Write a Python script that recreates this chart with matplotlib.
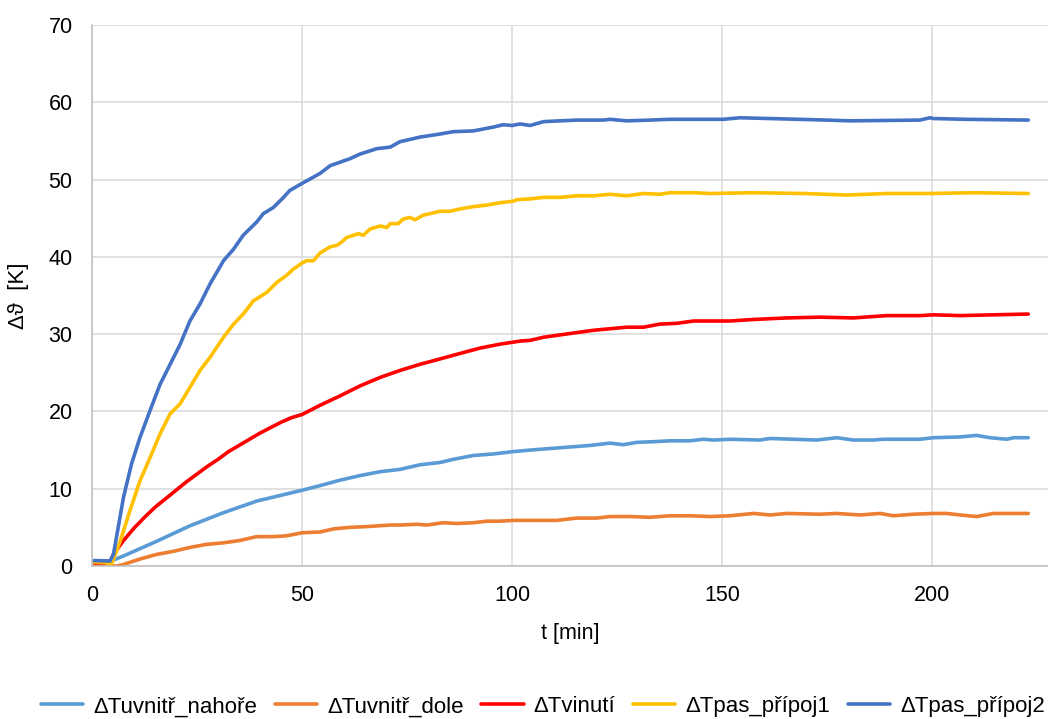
import matplotlib.pyplot as plt

plt.rcParams['font.family'] = ['Liberation Sans', 'DejaVu Sans']

# series names
names = ['ΔTuvnitř_nahoře', 'ΔTuvnitř_dole', 'ΔTvinutí', 'ΔTpas_přípoj1', 'ΔTpas_přípoj2']
colors = ['#5B9BD5', '#ED7D31', '#FF0000', '#FFC000', '#4472C4']

# values (t in min, dT in K)
t_nahore = [0.5, 4.3, 7.5, 15.4, 23.3, 31.3, 39.2, 50, 54.3, 59, 63.8, 68.6, 73.3, 78.1, 82.9, 86,
            90.8, 95.6, 100.3, 104.3, 109, 113.8, 118.6, 123.3, 126.5, 129.7, 134.4, 137.6, 142.4,
            145.6, 147.9, 152, 159, 161.4, 172.5, 177.3, 181.3, 186, 188.4, 197.1, 200.3, 206.7,
            210.6, 213.8, 217.8, 219.4, 222.9]
v_nahore = [0.6, 0.6, 1.3, 3.2, 5.2, 6.9, 8.4, 9.8, 10.4, 11.1, 11.7, 12.2, 12.5, 13.1, 13.4, 13.8,
            14.3, 14.5, 14.8, 15.0, 15.2, 15.4, 15.6, 15.9, 15.7, 16.0, 16.1, 16.2, 16.2,
            16.4, 16.3, 16.4, 16.3, 16.5, 16.3, 16.6, 16.3, 16.3, 16.4, 16.4, 16.6, 16.7,
            16.9, 16.6, 16.4, 16.6, 16.6]

t_dole = [0.7, 4.3, 6, 7.5, 11.4, 15.4, 19.4, 23.3, 27.3, 31.3, 35.2, 39.2, 43.2, 46.3, 50,
          54.3, 57.5, 61.4, 65.4, 71, 73.3, 77.3, 79.7, 83.7, 86.8, 90.8, 94, 97.1, 100.3,
          104.3, 110.6, 115.4, 120.2, 123.3, 128.1, 132.9, 137.6, 142.4, 147.1, 151.9,
          157.5, 161.4, 165.4, 173.3, 177.3, 182.9, 187.6, 190.8, 195.6, 200.3,
          203.5, 206.7, 210.6, 214.6, 219.4, 222.9]
v_dole = [0.2, 0.0, 0.0, 0.2, 0.9, 1.5, 1.9, 2.4, 2.8, 3.0, 3.3, 3.8, 3.8, 3.9, 4.3,
          4.4, 4.8, 5.0, 5.1, 5.3, 5.3, 5.4, 5.3, 5.6, 5.5, 5.6, 5.8, 5.8, 5.9,
          5.9, 5.9, 6.2, 6.2, 6.4, 6.4, 6.3, 6.5, 6.5, 6.4, 6.5,
          6.8, 6.6, 6.8, 6.7, 6.8, 6.6, 6.8, 6.5, 6.7, 6.8,
          6.8, 6.6, 6.4, 6.8, 6.8, 6.8]

t_vinuti = [0.5, 4.3, 5.1, 7.5, 10, 12.5, 15, 17.5, 20, 22.5, 25, 27.5, 30, 32.5, 35, 37.5, 40,
            42.5, 45, 47.5, 50, 54.3, 59, 63.8, 68.6, 73.3, 78.1, 82.9, 87.6, 92.4, 97.1, 101.9,
            104.3, 107.5, 111.4, 115.4, 119.4, 123.3, 127.3, 131.3, 135.2, 139.2, 143.2, 147.1,
            151.9, 157.5, 165.4, 173.3, 181.3, 189.2, 197.1, 200.3, 206.7, 214.6, 222.9]
v_vinuti = [0.4, 0.5, 1.5, 3.3, 4.9, 6.3, 7.6, 8.7, 9.8, 10.9, 11.9, 12.9, 13.8, 14.8, 15.6, 16.4, 17.2,
            17.9, 18.6, 19.2, 19.6, 20.8, 22.0, 23.3, 24.4, 25.3, 26.1, 26.8, 27.5, 28.2, 28.7, 29.1,
            29.2, 29.6, 29.9, 30.2, 30.5, 30.7, 30.9, 30.9, 31.3, 31.4, 31.7, 31.7,
            31.7, 31.9, 32.1, 32.2, 32.1, 32.4, 32.4, 32.5, 32.4, 32.5, 32.6]

t_pripoj1 = [0.5, 3.0, 4.3, 4.7, 6.7, 9.0, 11.4, 13.8, 16.2, 18.6, 21, 23.3, 25.7, 28.1, 31.3, 33.7,
             36, 38.4, 41.6, 44, 46.3, 47.9, 50, 51.1, 52.7, 54.3, 56.7, 58.3, 59.4, 60.6, 63.4,
             64.6, 66.2, 68.6, 70.2, 71, 72.9, 74.1, 75.7, 76.9, 78.9, 82.9, 85.2, 87.6, 90.8, 94,
             97.1, 100.3, 101.1, 104.3, 107.5, 111.4, 115.4, 119.4, 123.3, 127.3, 131.3, 135.2,
             137.6, 143.2, 147.1, 157.5, 169.4, 179.7, 189.2, 199.5, 210, 222.9]
v_pripoj1 = [0.5, 0.5, 0.2, 0.3, 3.2, 7.1, 11.0, 14.0, 17.1, 19.7, 21.0, 23.1, 25.3, 27.0, 29.6, 31.3,
             32.6, 34.3, 35.4, 36.7, 37.6, 38.4, 39.2, 39.5, 39.5, 40.5, 41.3, 41.5, 41.9, 42.5, 43.0,
             42.8, 43.6, 44.0, 43.8, 44.3, 44.3, 44.9, 45.1, 44.8, 45.4, 45.9, 45.9, 46.2, 46.5, 46.7,
             47.0, 47.2, 47.4, 47.5, 47.7, 47.7, 47.9, 47.9, 48.1, 47.9, 48.2, 48.1,
             48.3, 48.3, 48.2, 48.3, 48.2, 48.0, 48.2, 48.2, 48.3, 48.2]

t_pripoj2 = [0.5, 4.3, 5.1, 7.5, 9.4, 11.4, 13.8, 16.2, 18.6, 21, 23.3, 25.7, 28.1, 31.3, 33.7, 36,
             39.2, 40.8, 43.2, 45.6, 47.1, 50, 54.3, 56.7, 61.4, 63.8, 67.8, 71, 73.3, 78.1, 82.9,
             86, 90.8, 95.6, 97.9, 100, 101.9, 104.3, 107.5, 111.4, 115.4, 121.7, 123.3, 127.3,
             132.9, 137.6, 145.6, 150.3, 154.3, 174.9, 180.5, 197.1, 199.5, 200.3, 208, 222.9]
v_pripoj2 = [0.7, 0.65, 1.5, 8.9, 13.2, 16.6, 20.1, 23.5, 26.1, 28.7, 31.7, 33.9, 36.5, 39.5, 41.0, 42.8,
             44.5, 45.6, 46.4, 47.7, 48.6, 49.5, 50.8, 51.8, 52.7, 53.3, 54.0, 54.2, 54.9, 55.5, 55.9,
             56.2, 56.3, 56.8, 57.1, 57.0, 57.2, 57.0, 57.5, 57.6, 57.7, 57.7, 57.8, 57.6,
             57.7, 57.8, 57.8, 57.8, 58.0, 57.7, 57.6, 57.7, 58.0, 57.9, 57.8, 57.7]

series = [(t_nahore, v_nahore), (t_dole, v_dole), (t_vinuti, v_vinuti),
          (t_pripoj1, v_pripoj1), (t_pripoj2, v_pripoj2)]

fig = plt.figure(figsize=(10.48, 7.19), dpi=100)
ax = fig.add_axes([0.0878, 0.2128, 1 - 0.0878, 0.9652 - 0.2128])

for (t, v), name, c in zip(series, names, colors):
    ax.plot(t, v, color=c, lw=2.6, label=name, solid_capstyle='round')

ax.set_xlim(0, 227.6)
ax.set_ylim(0, 70)
ax.set_xticks([0, 50, 100, 150, 200])
ax.set_yticks(range(0, 71, 10))
ax.grid(True, color='#D9D9D9', lw=1.1)
ax.set_axisbelow(True)
for s in ['top', 'right']:
    ax.spines[s].set_visible(False)
for s in ['left', 'bottom']:
    ax.spines[s].set_color('#BFBFBF')
    ax.spines[s].set_linewidth(1.1)
ax.tick_params(length=0, labelsize=15.5, pad=14, colors='black')

ax.set_xlabel('t [min]', fontsize=15.5, labelpad=12)
ax.set_ylabel('Δϑ  [K]', fontsize=16, labelpad=14)

fig.legend(loc='center', bbox_to_anchor=(0.518, 0.017), ncol=5, frameon=False,
           fontsize=16, handlelength=1.9, handletextpad=0.45, columnspacing=0.8)

fig.savefig('out.png', dpi=100)
